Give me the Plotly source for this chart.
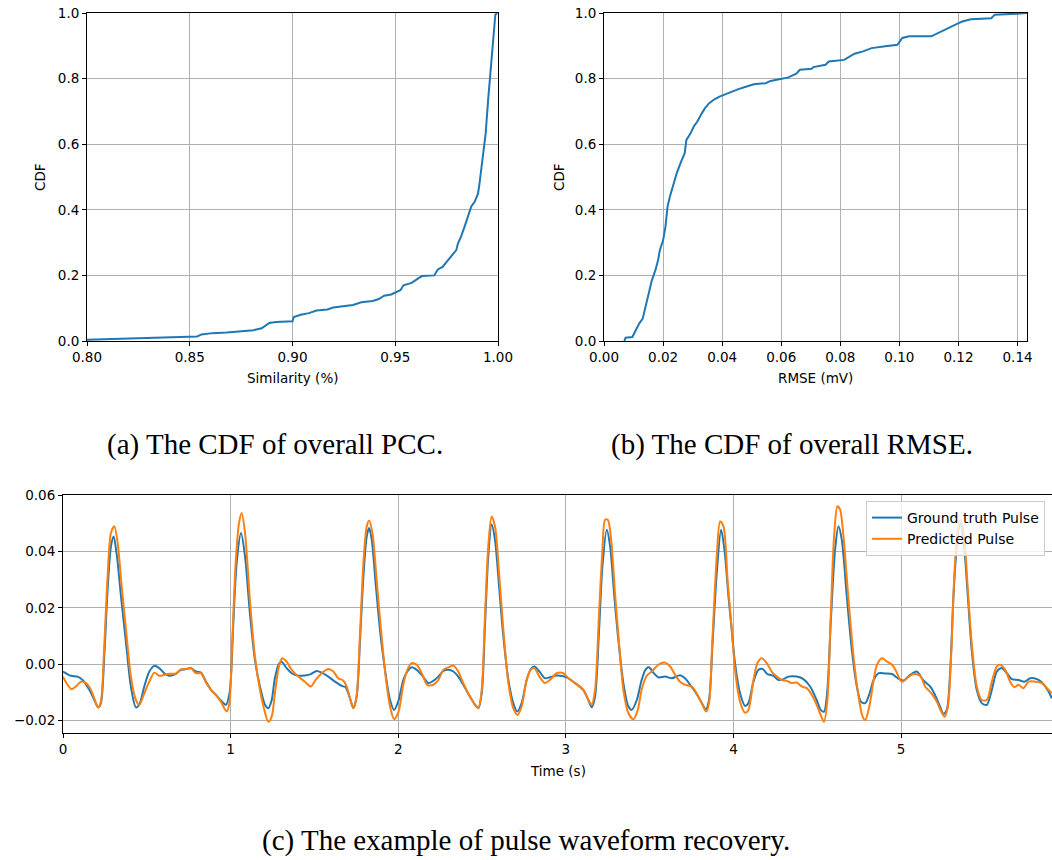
import plotly.graph_objects as go

# ---- (a) CDF of the Pearson correlation (similarity) ----
pcc_x = [0.800, 0.8136, 0.8358, 0.8536, 0.8557, 0.861, 0.868, 0.876, 0.881, 0.885,
         0.8887, 0.892, 0.900, 0.9006, 0.904, 0.908, 0.9117, 0.917, 0.9198, 0.9246,
         0.9295, 0.9335, 0.939, 0.942, 0.9446, 0.948, 0.950, 0.9525, 0.954, 0.958,
         0.961, 0.963, 0.969, 0.9707, 0.973, 0.9757, 0.978, 0.9797, 0.9805, 0.982,
         0.9837, 0.9854, 0.987, 0.9887, 0.9903, 0.991, 0.9928, 0.994, 0.9952, 0.9963,
         0.9976, 0.9987, 0.9996]
pcc_cdf = [0.004, 0.007, 0.011, 0.014, 0.020, 0.024, 0.026, 0.030, 0.033, 0.039,
           0.055, 0.058, 0.060, 0.073, 0.080, 0.085, 0.093, 0.096, 0.102, 0.106,
           0.110, 0.118, 0.122, 0.128, 0.138, 0.142, 0.147, 0.155, 0.170, 0.177,
           0.190, 0.198, 0.200, 0.218, 0.226, 0.246, 0.265, 0.277, 0.297, 0.318,
           0.348, 0.381, 0.410, 0.425, 0.450, 0.480, 0.572, 0.633, 0.735, 0.817,
           0.920, 0.995, 1.000]

# ---- (b) CDF of the RMSE ----
rmse_x = [0.0069, 0.0073, 0.0096, 0.0108, 0.0119, 0.0131, 0.0139, 0.0150, 0.0162, 0.0174,
          0.0183, 0.0189, 0.0200, 0.0208, 0.0215, 0.0223, 0.0235, 0.0246, 0.0261, 0.0273,
          0.0279, 0.0293, 0.0304, 0.0316, 0.0331, 0.0342, 0.0356, 0.0374, 0.0391, 0.0414,
          0.0431, 0.0455, 0.0483, 0.0507, 0.0547, 0.0564, 0.0593, 0.0622, 0.0651, 0.0663,
          0.0703, 0.0709, 0.0750, 0.0761, 0.0813, 0.0831, 0.0848, 0.0877, 0.0906, 0.0946,
          0.0993, 0.1010, 0.1033, 0.1108, 0.1131, 0.1149, 0.1172, 0.1195, 0.1213, 0.1242,
          0.1311, 0.1323, 0.1398, 0.1433]
rmse_cdf = [0.000, 0.010, 0.012, 0.033, 0.053, 0.068, 0.099, 0.145, 0.185, 0.216,
            0.246, 0.277, 0.307, 0.348, 0.409, 0.440, 0.480, 0.511, 0.547, 0.572,
            0.613, 0.633, 0.654, 0.669, 0.694, 0.710, 0.725, 0.737, 0.745, 0.754,
            0.761, 0.768, 0.776, 0.783, 0.786, 0.793, 0.798, 0.803, 0.815, 0.827,
            0.830, 0.835, 0.842, 0.852, 0.857, 0.868, 0.876, 0.883, 0.893, 0.898,
            0.903, 0.924, 0.929, 0.929, 0.939, 0.949, 0.959, 0.967, 0.974, 0.981,
            0.984, 0.995, 0.998, 1.000]

# ---- (c) pulse waveform: ground truth ----
gt_t = [0.000, 0.047, 0.087, 0.117, 0.157, 0.187, 0.210, 0.226, 0.246, 0.266,
        0.286, 0.302, 0.322, 0.346, 0.376, 0.405, 0.435, 0.455, 0.485, 0.515,
        0.545, 0.574, 0.604, 0.634, 0.674, 0.704, 0.733, 0.763, 0.793, 0.823,
        0.853, 0.883, 0.912, 0.942, 0.972, 0.994, 1.016, 1.036, 1.062, 1.086,
        1.115, 1.145, 1.175, 1.205, 1.225, 1.245, 1.264, 1.288, 1.304, 1.334,
        1.364, 1.404, 1.443, 1.479, 1.513, 1.543, 1.583, 1.623, 1.662, 1.686,
        1.712, 1.732, 1.752, 1.772, 1.792, 1.812, 1.826, 1.842, 1.865, 1.891,
        1.921, 1.951, 1.975, 2.001, 2.030, 2.054, 2.080, 2.110, 2.140, 2.180,
        2.209, 2.239, 2.269, 2.299, 2.329, 2.358, 2.388, 2.428, 2.458, 2.478,
        2.498, 2.518, 2.537, 2.557, 2.577, 2.603, 2.627, 2.657, 2.686, 2.710,
        2.736, 2.766, 2.790, 2.812, 2.842, 2.875, 2.905, 2.945, 2.985, 3.015,
        3.055, 3.104, 3.134, 3.154, 3.174, 3.198, 3.218, 3.244, 3.264, 3.289,
        3.313, 3.343, 3.373, 3.393, 3.423, 3.452, 3.476, 3.496, 3.522, 3.552,
        3.592, 3.632, 3.681, 3.711, 3.741, 3.771, 3.807, 3.835, 3.854, 3.874,
        3.900, 3.926, 3.946, 3.970, 3.992, 4.009, 4.039, 4.069, 4.089, 4.119,
        4.149, 4.174, 4.202, 4.238, 4.268, 4.298, 4.327, 4.377, 4.417, 4.457,
        4.496, 4.520, 4.540, 4.560, 4.580, 4.606, 4.626, 4.646, 4.676, 4.706,
        4.736, 4.760, 4.786, 4.812, 4.836, 4.866, 4.906, 4.946, 4.974, 5.014,
        5.054, 5.093, 5.133, 5.173, 5.202, 5.232, 5.252, 5.272, 5.292, 5.312,
        5.332, 5.352, 5.372, 5.398, 5.421, 5.451, 5.481, 5.511, 5.541, 5.571,
        5.601, 5.631, 5.660, 5.700, 5.736, 5.770, 5.810, 5.840, 5.874, 5.899]
gt_v = [-0.0026, -0.0041, -0.0044, -0.0056, -0.0091, -0.0127, -0.0153, -0.0138, 0.0027, 0.0264,
        0.0418, 0.0453, 0.0382, 0.0240, 0.0075, -0.0079, -0.0153, -0.0144, -0.0079, -0.0026,
        -0.0006, -0.0014, -0.0032, -0.0041, -0.0034, -0.0020, -0.0018, -0.0014, -0.0026, -0.0030,
        -0.0062, -0.0091, -0.0109, -0.0129, -0.0144, -0.0100, 0.0146, 0.0359, 0.0465, 0.0382,
        0.0181, 0.0015, -0.0079, -0.0144, -0.0156, -0.0127, -0.0050, 0.0001, 0.0009, -0.0014,
        -0.0032, -0.0041, -0.0040, -0.0035, -0.0024, -0.0030, -0.0044, -0.0062, -0.0077, -0.0082,
        -0.0121, -0.0156, -0.0115, 0.0086, 0.0311, 0.0453, 0.0483, 0.0441, 0.0288, 0.0122,
        -0.0020, -0.0127, -0.0162, -0.0130, -0.0056, -0.0026, -0.0011, -0.0020, -0.0038, -0.0067,
        -0.0059, -0.0044, -0.0024, -0.0020, -0.0026, -0.0044, -0.0073, -0.0115, -0.0144, -0.0156,
        -0.0103, 0.0146, 0.0382, 0.0495, 0.0441, 0.0264, 0.0098, -0.0056, -0.0138, -0.0168,
        -0.0138, -0.0056, -0.0018, -0.0008, -0.0026, -0.0050, -0.0046, -0.0040, -0.0043, -0.0050,
        -0.0067, -0.0091, -0.0127, -0.0153, -0.0115, 0.0122, 0.0347, 0.0477, 0.0418, 0.0240,
        0.0086, -0.0067, -0.0150, -0.0162, -0.0127, -0.0056, -0.0018, -0.0011, -0.0030, -0.0047,
        -0.0044, -0.0050, -0.0039, -0.0050, -0.0073, -0.0097, -0.0133, -0.0160, -0.0127, 0.0063,
        0.0323, 0.0477, 0.0406, 0.0240, 0.0105, 0.0004, -0.0103, -0.0148, -0.0138, -0.0062,
        -0.0020, -0.0017, -0.0035, -0.0041, -0.0056, -0.0053, -0.0044, -0.0044, -0.0053, -0.0079,
        -0.0127, -0.0162, -0.0168, -0.0091, 0.0146, 0.0406, 0.0489, 0.0441, 0.0240, 0.0051,
        -0.0079, -0.0133, -0.0138, -0.0103, -0.0056, -0.0032, -0.0033, -0.0035, -0.0047, -0.0058,
        -0.0038, -0.0026, -0.0058, -0.0079, -0.0109, -0.0150, -0.0176, -0.0162, -0.0032, 0.0240,
        0.0418, 0.0500, 0.0441, 0.0240, 0.0051, -0.0091, -0.0138, -0.0144, -0.0091, -0.0026,
        -0.0014, -0.0032, -0.0053, -0.0056, -0.0062, -0.0050, -0.0053, -0.0065, -0.0091, -0.0121]

# ---- (c) pulse waveform: prediction ----
pred_t = [0.000, 0.027, 0.051, 0.077, 0.107, 0.137, 0.167, 0.190, 0.210, 0.226,
          0.246, 0.266, 0.286, 0.306, 0.326, 0.350, 0.376, 0.405, 0.435, 0.455,
          0.485, 0.515, 0.545, 0.574, 0.604, 0.634, 0.674, 0.704, 0.733, 0.763,
          0.793, 0.823, 0.853, 0.883, 0.912, 0.942, 0.962, 0.976, 0.992, 1.010,
          1.030, 1.050, 1.066, 1.086, 1.115, 1.145, 1.175, 1.201, 1.225, 1.245,
          1.264, 1.288, 1.308, 1.334, 1.364, 1.404, 1.443, 1.479, 1.507, 1.543,
          1.583, 1.613, 1.642, 1.672, 1.692, 1.712, 1.732, 1.752, 1.772, 1.792,
          1.812, 1.826, 1.846, 1.871, 1.897, 1.925, 1.951, 1.975, 2.001, 2.030,
          2.054, 2.080, 2.110, 2.140, 2.173, 2.209, 2.239, 2.269, 2.299, 2.329,
          2.358, 2.388, 2.428, 2.458, 2.478, 2.498, 2.518, 2.537, 2.557, 2.577,
          2.603, 2.627, 2.657, 2.686, 2.712, 2.736, 2.766, 2.790, 2.812, 2.842,
          2.875, 2.905, 2.945, 2.985, 3.015, 3.055, 3.104, 3.134, 3.154, 3.174,
          3.198, 3.218, 3.234, 3.250, 3.270, 3.293, 3.317, 3.343, 3.373, 3.403,
          3.429, 3.452, 3.482, 3.512, 3.552, 3.588, 3.622, 3.652, 3.681, 3.711,
          3.751, 3.780, 3.810, 3.837, 3.854, 3.874, 3.900, 3.920, 3.940, 3.966,
          3.990, 4.009, 4.039, 4.069, 4.089, 4.119, 4.143, 4.168, 4.198, 4.228,
          4.258, 4.288, 4.318, 4.347, 4.377, 4.407, 4.437, 4.467, 4.496, 4.520,
          4.540, 4.560, 4.580, 4.600, 4.620, 4.636, 4.656, 4.686, 4.716, 4.746,
          4.770, 4.786, 4.810, 4.836, 4.856, 4.886, 4.916, 4.946, 4.970, 5.004,
          5.034, 5.074, 5.113, 5.143, 5.183, 5.213, 5.239, 5.259, 5.279, 5.298,
          5.318, 5.338, 5.354, 5.374, 5.398, 5.421, 5.451, 5.481, 5.511, 5.541,
          5.571, 5.591, 5.621, 5.650, 5.676, 5.700, 5.730, 5.760, 5.800, 5.840,
          5.870, 5.899]
pred_v = [-0.0044, -0.0073, -0.0089, -0.0079, -0.0062, -0.0067, -0.0091, -0.0127, -0.0154, -0.0133,
          0.0063, 0.0311, 0.0465, 0.0489, 0.0430, 0.0276, 0.0122, -0.0044, -0.0127, -0.0144,
          -0.0103, -0.0062, -0.0030, -0.0041, -0.0038, -0.0034, -0.0033, -0.0018, -0.0017, -0.0015,
          -0.0032, -0.0032, -0.0065, -0.0091, -0.0109, -0.0133, -0.0156, -0.0168, -0.0140, 0.0086,
          0.0359, 0.0500, 0.0536, 0.0465, 0.0228, 0.0027, -0.0091, -0.0162, -0.0204, -0.0186,
          -0.0103, -0.0008, 0.0021, 0.0009, -0.0020, -0.0044, -0.0062, -0.0079, -0.0056, -0.0032,
          -0.0017, -0.0026, -0.0050, -0.0058, -0.0079, -0.0121, -0.0156, -0.0109, 0.0110, 0.0359,
          0.0489, 0.0510, 0.0465, 0.0299, 0.0122, -0.0044, -0.0150, -0.0195, -0.0170, -0.0073,
          -0.0020, 0.0004, -0.0002, -0.0032, -0.0073, -0.0073, -0.0056, -0.0020, -0.0011, -0.0005,
          -0.0026, -0.0067, -0.0115, -0.0144, -0.0156, -0.0091, 0.0181, 0.0418, 0.0524, 0.0489,
          0.0311, 0.0122, -0.0067, -0.0156, -0.0180, -0.0150, -0.0056, -0.0020, -0.0014, -0.0044,
          -0.0067, -0.0056, -0.0032, -0.0032, -0.0050, -0.0067, -0.0091, -0.0127, -0.0144, -0.0091,
          0.0181, 0.0406, 0.0512, 0.0512, 0.0441, 0.0252, 0.0075, -0.0091, -0.0174, -0.0195,
          -0.0162, -0.0091, -0.0041, -0.0026, -0.0002, 0.0006, -0.0008, -0.0038, -0.0062, -0.0073,
          -0.0079, -0.0103, -0.0138, -0.0168, -0.0138, 0.0086, 0.0382, 0.0506, 0.0489, 0.0288,
          0.0122, -0.0020, -0.0133, -0.0172, -0.0162, -0.0056, 0.0004, 0.0021, 0.0004, -0.0026,
          -0.0044, -0.0056, -0.0059, -0.0067, -0.0065, -0.0079, -0.0085, -0.0109, -0.0144, -0.0180,
          -0.0204, -0.0127, 0.0169, 0.0453, 0.0560, 0.0548, 0.0453, 0.0228, 0.0027, -0.0115,
          -0.0186, -0.0198, -0.0150, -0.0056, -0.0002, 0.0021, 0.0009, -0.0002, -0.0025, -0.0062,
          -0.0050, -0.0035, -0.0041, -0.0079, -0.0105, -0.0133, -0.0168, -0.0186, -0.0150, 0.0027,
          0.0323, 0.0477, 0.0512, 0.0465, 0.0264, 0.0075, -0.0079, -0.0127, -0.0127, -0.0062,
          -0.0008, -0.0002, -0.0020, -0.0062, -0.0082, -0.0073, -0.0085, -0.0062, -0.0062, -0.0067,
          -0.0085, -0.0103]

W, H = 1052, 860
BLUE, ORANGE = "#1f77b4", "#ff7f0e"
AXFONT = dict(family="DejaVu Sans", size=13.5, color="black")
LEGFONT = dict(family="DejaVu Sans", size=14, color="black")
CAPFONT = dict(family="Liberation Serif", size=29, color="black")


def fx(px):
    return px / W


def fy(py):
    return 1 - py / H


fig = go.Figure()

fig.add_trace(go.Scatter(x=pcc_x, y=pcc_cdf, mode="lines", line=dict(color=BLUE, width=2),
                         xaxis="x", yaxis="y", showlegend=False))
fig.add_trace(go.Scatter(x=rmse_x, y=rmse_cdf, mode="lines", line=dict(color=BLUE, width=2),
                         xaxis="x2", yaxis="y2", showlegend=False))
fig.add_trace(go.Scatter(x=gt_t, y=gt_v, mode="lines", name="Ground truth Pulse",
                         line=dict(color=BLUE, width=2, shape="spline", smoothing=0.8),
                         xaxis="x3", yaxis="y3"))
fig.add_trace(go.Scatter(x=pred_t, y=pred_v, mode="lines", name="Predicted Pulse",
                         line=dict(color=ORANGE, width=2, shape="spline", smoothing=0.8),
                         xaxis="x3", yaxis="y3"))

common = dict(showline=True, linecolor="black", linewidth=1, ticks="outside", ticklen=4,
              tickwidth=1, tickcolor="black", showgrid=True, gridcolor="#b0b0b0",
              gridwidth=1, zeroline=False, tickfont=AXFONT, automargin=False)

fig.update_layout(
    width=W, height=H, margin=dict(l=0, r=0, t=0, b=0, autoexpand=False),
    paper_bgcolor="white", plot_bgcolor="white",
    xaxis=dict(domain=[fx(87), fx(498)], range=[0.80, 1.00], tickvals=[0.80, 0.85, 0.90, 0.95, 1.00],
               tickformat=".2f", mirror=True, anchor="y", **common),
    yaxis=dict(domain=[fy(341), fy(13)], range=[0, 1], dtick=0.2, tickformat=".1f",
               mirror=True, anchor="x", **common),
    xaxis2=dict(domain=[fx(604), fx(1027)], range=[0, 0.1432], dtick=0.02, tickformat=".2f",
                mirror=True, anchor="y2", **common),
    yaxis2=dict(domain=[fy(341), fy(13)], range=[0, 1], dtick=0.2, tickformat=".1f",
                mirror=True, anchor="x2", **common),
    xaxis3=dict(domain=[fx(63), 1.0], range=[0, 5.90], dtick=1, mirror=True, anchor="y3", **common),
    yaxis3=dict(domain=[fy(733), fy(495)], range=[-0.0244, 0.06], dtick=0.02, tickformat=".2f",
                mirror=False, anchor="x3", **common),
    legend=dict(x=fx(1045), y=fy(501), xanchor="right", yanchor="top",
                bgcolor="rgba(255,255,255,0.8)", bordercolor="#cccccc", borderwidth=1,
                font=LEGFONT, tracegroupgap=0),
    showlegend=True,
)

annotations = [
    dict(text="CDF", x=fx(40), y=fy(177), textangle=-90),
    dict(text="CDF", x=fx(559), y=fy(177), textangle=-90),
    dict(text="Similarity (%)", x=fx(292.5), y=fy(378)),
    dict(text="RMSE (mV)", x=fx(815.5), y=fy(378)),
    dict(text="Time (s)", x=fx(557.5), y=fy(771)),
]
for a in annotations:
    fig.add_annotation(xref="paper", yref="paper", showarrow=False, xanchor="center",
                       yanchor="middle", font=AXFONT, **a)

captions = [
    ("(a) The CDF of overall PCC.", 274.5, 444),
    ("(b) The CDF of overall RMSE.", 792, 444),
    ("(c) The example of pulse waveform recovery.", 526, 840),
]
for txt, cx, cy in captions:
    fig.add_annotation(text=txt, xref="paper", yref="paper", x=fx(cx), y=fy(cy),
                       showarrow=False, xanchor="center", yanchor="middle", font=CAPFONT)

fig.write_html("out.html")
